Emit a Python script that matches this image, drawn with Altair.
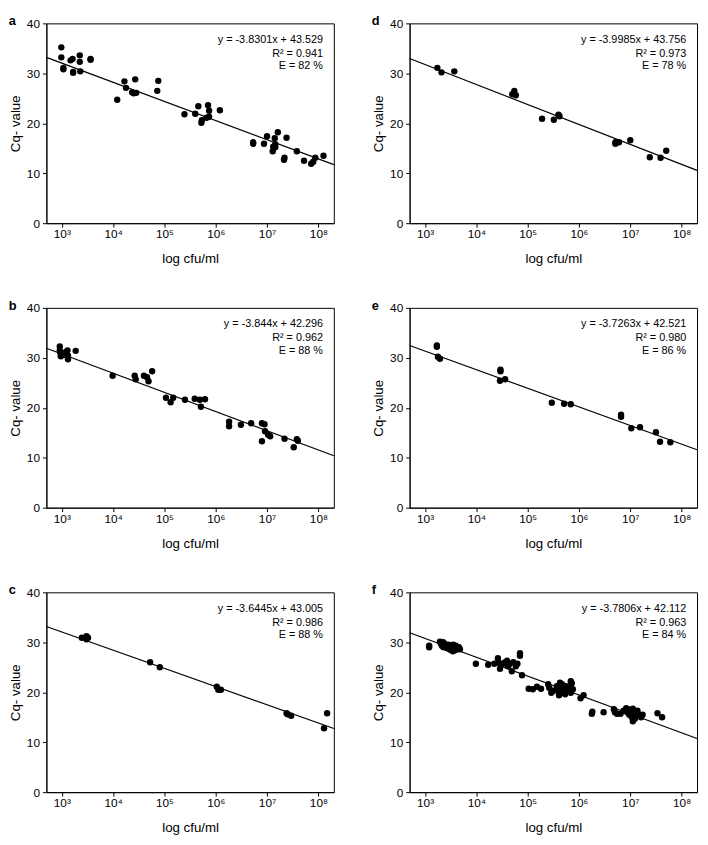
import altair as alt
import numpy as np
import pandas as pd

FONT = "Liberation Sans"

# ---------------- data (log10 cfu/ml, Cq) ----------------
letters = ["a", "b", "c", "d", "e", "f"]
slopes = [-3.8301, -3.844, -3.6445, -3.9985, -3.7263, -3.7806]
intercepts = [43.529, 42.296, 43.005, 43.756, 42.521, 42.112]
eq_labels = ["y = -3.8301x + 43.529", "y = -3.844x + 42.296", "y = -3.6445x + 43.005",
             "y = -3.9985x + 43.756", "y = -3.7263x + 42.521", "y = -3.7806x + 42.112"]
r2_labels = ["R² = 0.941", "R² = 0.962", "R² = 0.986", "R² = 0.973", "R² = 0.980", "R² = 0.963"]
eff_labels = ["E = 82 %", "E = 88 %", "E = 88 %", "E = 78 %", "E = 86 %", "E = 84 %"]

a_log = [2.99, 2.99, 3.03, 3.03, 3.17, 3.21, 3.22, 3.22, 3.35, 3.35, 3.36, 3.56, 3.56,
         4.08, 4.22, 4.25, 4.37, 4.40, 4.43, 4.45, 4.86, 4.88,
         5.39, 5.60, 5.66, 5.72, 5.73, 5.82, 5.85, 5.87, 5.87, 6.08,
         6.73, 6.73, 6.94, 7.00, 7.11, 7.12, 7.15, 7.16, 7.16, 7.21, 7.33, 7.34, 7.38,
         7.58, 7.72, 7.86, 7.90, 7.94, 8.10]
a_cq = [35.2, 33.2, 31.1, 30.8, 32.6, 32.9, 30.3, 30.1, 33.6, 32.3, 30.4, 32.9, 32.7,
        24.7, 28.4, 27.1, 26.2, 26.0, 28.8, 26.1, 26.5, 28.5,
        21.8, 21.9, 23.4, 20.1, 20.6, 21.1, 23.6, 22.5, 21.3, 22.6,
        15.9, 16.2, 15.9, 17.4, 14.4, 15.3, 17.0, 15.8, 15.2, 18.2, 12.7, 13.1, 17.1,
        14.4, 12.5, 11.9, 12.3, 13.1, 13.5]

b_log = [2.96, 2.96, 2.97, 2.98, 3.02, 3.05, 3.08, 3.11, 3.12, 3.12, 3.27,
         3.99, 4.42, 4.44, 4.60, 4.66, 4.69, 4.76,
         5.03, 5.12, 5.17, 5.40, 5.59, 5.69, 5.71, 5.79,
         6.26, 6.26, 6.49, 6.69, 6.90, 6.95, 6.90, 6.96, 7.02, 7.06, 7.34, 7.52, 7.58, 7.60]
b_cq = [32.3, 31.5, 31.0, 30.3, 30.9, 30.6, 31.2, 31.5, 30.4, 29.7, 31.4,
        26.4, 26.4, 25.7, 26.4, 26.1, 25.3, 27.3,
        22.0, 21.1, 22.0, 21.6, 21.8, 21.6, 20.2, 21.7,
        17.2, 16.3, 16.6, 16.9, 16.9, 16.7, 13.3, 15.3, 14.6, 14.3, 13.8, 12.1, 13.7, 13.4]

c_log = [3.39, 3.48, 3.48, 3.51, 4.72, 4.91, 6.02, 6.05, 6.10, 7.38, 7.40, 7.47, 8.11, 8.17]
c_cq = [30.9, 31.2, 30.6, 30.9, 26.0, 25.0, 21.1, 20.5, 20.5, 15.8, 15.6, 15.3, 12.8, 15.8]

d_log = [3.24, 3.32, 3.57, 4.70, 4.74, 4.77, 4.73, 5.28, 5.51, 5.60, 5.62,
         6.71, 6.71, 6.78, 7.00, 7.38, 7.59, 7.70]
d_cq = [31.1, 30.2, 30.4, 25.8, 26.5, 25.6, 26.0, 20.9, 20.7, 21.7, 21.4,
        15.9, 16.2, 16.2, 16.6, 13.2, 13.1, 14.5]

e_log = [3.23, 3.23, 3.25, 3.29, 4.47, 4.47, 4.46, 4.56, 5.47, 5.71, 5.84,
         6.82, 6.82, 7.02, 7.19, 7.50, 7.58, 7.78]
e_cq = [32.5, 32.2, 30.2, 29.8, 27.3, 27.6, 25.4, 25.7, 21.0, 20.8, 20.7,
        18.6, 18.2, 15.9, 16.1, 15.1, 13.2, 13.1]

f_log = [3.08, 3.08,
         3.29, 3.31, 3.33, 3.36, 3.38, 3.35, 3.41, 3.43, 3.46, 3.44, 3.49, 3.52, 3.54, 3.57,
         3.58, 3.60, 3.63, 3.66, 3.68, 3.55,
         3.99, 4.23, 4.35, 4.42, 4.43, 4.46, 4.52, 4.56, 4.60, 4.62, 4.65, 4.69, 4.72, 4.77,
         4.80, 4.85, 4.85, 4.89,
         5.02, 5.10, 5.18, 5.26, 5.40, 5.42, 5.46, 5.50, 5.57, 5.59, 5.61, 5.64, 5.67, 5.68,
         5.71, 5.73, 5.75, 5.78, 5.82, 5.84, 5.86, 5.84, 5.63, 5.88,
         6.03, 6.09, 6.25, 6.26, 6.48,
         6.68, 6.70, 6.74, 6.81, 6.87, 6.92, 6.94, 6.96, 6.98, 7.00, 7.03, 7.04, 7.05, 7.06,
         7.09, 7.10, 7.05, 7.14, 7.18, 7.21, 7.24,
         7.53, 7.62]
f_cq = [29.3, 29.0,
        30.1, 29.7, 29.3, 29.0, 29.7, 30.0, 29.1, 28.8, 29.5, 29.2, 28.5, 29.1, 28.2, 28.8,
        28.4, 29.3, 28.6, 29.0, 28.6, 29.5,
        25.7, 25.5, 25.7, 26.8, 26.0, 24.7, 25.7, 26.0, 26.3, 25.2, 25.7, 24.2, 26.0, 25.2,
        25.7, 27.8, 27.3, 23.4,
        20.7, 20.6, 21.1, 20.7, 21.6, 20.9, 19.9, 20.3, 21.2, 20.3, 19.4, 20.9, 21.6, 20.1,
        20.7, 19.6, 21.2, 20.3, 20.9, 22.2, 21.8, 19.9, 21.9, 20.6,
        18.8, 19.4, 15.7, 16.1, 16.0,
        16.6, 16.0, 15.7, 15.7, 16.3, 16.8, 16.0, 16.6, 15.5, 16.3, 15.0, 15.6, 16.7, 16.0,
        14.7, 15.4, 14.2, 16.3, 15.5, 15.0, 15.5,
        15.8, 15.0]

logs = [a_log, b_log, c_log, d_log, e_log, f_log]
cqs = [a_cq, b_cq, c_cq, d_cq, e_cq, f_cq]

x_ticks = [1e3, 1e4, 1e5, 1e6, 1e7, 1e8]
y_ticks = [0, 5, 10, 15, 20, 25, 30, 35, 40]
XMIN, XMAX = 500, 2e8

# ---------------- layout ----------------
W, H = 292, 203
SUP = "['⁰','¹','²','³','⁴','⁵','⁶','⁷','⁸','⁹']"


def panel(i):
    df = pd.DataFrame({"cfu": 10 ** np.array(logs[i]), "cq": cqs[i]})
    xenc = alt.X("cfu:Q",
                 scale=alt.Scale(type="log", domain=[XMIN, XMAX], nice=False),
                 axis=alt.Axis(values=x_ticks, title="log cfu/ml",
                               labelExpr="'10' + " + SUP + "[round(log(datum.value)/LN10)]"))
    yenc = alt.Y("cq:Q", scale=alt.Scale(domain=[0, 40], nice=False),
                 axis=alt.Axis(values=y_ticks, title="Cq- value"))
    pts = alt.Chart(df).mark_circle(size=42, color="black", opacity=1).encode(x=xenc, y=yenc)

    ends = np.array([XMIN, XMAX])
    ldf = pd.DataFrame({"cfu": ends, "cq": slopes[i] * np.log10(ends) + intercepts[i]})
    line = alt.Chart(ldf).mark_line(color="black", strokeWidth=1.2).encode(
        x="cfu:Q", y="cq:Q")

    tdf = pd.DataFrame({"eq": [eq_labels[i]], "r2": [r2_labels[i]], "e": [eff_labels[i]]})
    base_t = alt.Chart(tdf).mark_text(align="right", baseline="middle", font=FONT,
                                      fontSize=11, color="black")
    t1 = base_t.encode(x=alt.value(W - 11), y=alt.value(16.5), text="eq:N")
    t2 = base_t.encode(x=alt.value(W - 11), y=alt.value(31), text="r2:N")
    t3 = base_t.encode(x=alt.value(W - 11), y=alt.value(43.5), text="e:N")

    return alt.layer(pts, line, t1, t2, t3).properties(
        width=W, height=H,
        title=alt.TitleParams(letters[i], anchor="start", frame="bounds", font=FONT,
                              fontSize=13, fontWeight="bold", color="black", offset=-11))


rows = [alt.hconcat(panel(0), panel(3), spacing=35),
        alt.hconcat(panel(1), panel(4), spacing=35),
        alt.hconcat(panel(2), panel(5), spacing=35)]

chart = alt.vconcat(*rows, spacing=34).properties(
    padding={"left": 0, "top": 0, "right": 0, "bottom": 0}
).configure_view(stroke="black", strokeWidth=1).configure_axis(
    labelFont=FONT, labelFontSize=12, labelColor="black",
    titleFont=FONT, titleFontSize=13.5, titleFontWeight="normal", titleColor="black",
    domainColor="black", tickColor="black", tickSize=4, grid=False
).configure_axisX(labelPadding=2, titlePadding=12).configure_axisY(
    labelPadding=3, titlePadding=4
)

chart.save("out.html", embed_options={"renderer": "svg", "actions": False})
